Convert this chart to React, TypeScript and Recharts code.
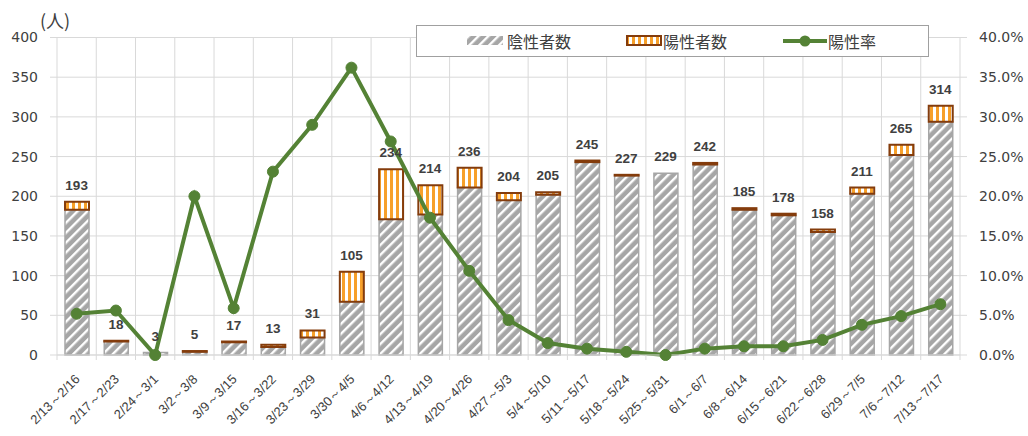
import { Bar, CartesianGrid, ComposedChart, LabelList, Line, XAxis, YAxis } from "recharts";

const weeks = [
  "2/13～2/16", "2/17～2/23", "2/24～3/1", "3/2～3/8", "3/9～3/15", "3/16～3/22",
  "3/23～3/29", "3/30～4/5", "4/6～4/12", "4/13～4/19", "4/20～4/26", "4/27～5/3",
  "5/4～5/10", "5/11～5/17", "5/18～5/24", "5/25～5/31", "6/1～6/7", "6/8～6/14",
  "6/15～6/21", "6/22～6/28", "6/29～7/5", "7/6～7/12", "7/13～7/17",
];
const totals = [193, 18, 3, 5, 17, 13, 31, 105, 234, 214, 236, 204, 205, 245, 227, 229, 242, 185, 178, 158, 211, 265, 314];
const positives = [10, 1, 0, 1, 1, 3, 9, 38, 63, 37, 25, 9, 3, 2, 1, 0, 2, 2, 2, 3, 8, 13, 20];
const rates = [5.2, 5.6, 0, 20.0, 5.9, 23.1, 29.0, 36.2, 26.9, 17.3, 10.6, 4.4, 1.5, 0.8, 0.4, 0, 0.8, 1.1, 1.1, 1.9, 3.8, 4.9, 6.4];
const countTicks = [0, 50, 100, 150, 200, 250, 300, 350, 400];
const rateTicks = [0, 5, 10, 15, 20, 25, 30, 35, 40];

const data = weeks.map((week, i) => ({
  week,
  total: totals[i],
  negative: totals[i] - positives[i],
  positive: positives[i],
  rate: rates[i],
}));

const GRAY = "#a6a6a6";
const ORANGE = "#f7a02a";
const BROWN = "#843c0c";
const GREEN = "#548235";
const GRID = "#d9d9d9";
const TEXT = "#404040";
const NUM_FONT = "'DejaVu Sans', Verdana, sans-serif";
const JP_FONT = "'Noto Sans CJK JP', sans-serif";

function Patterns({ prefix }: { prefix: string }) {
  return (
    <defs>
      <pattern id={`${prefix}-neg`} patternUnits="userSpaceOnUse" width="7" height="7" patternTransform="rotate(45)">
        <rect width="7" height="7" fill={GRAY} />
        <rect width="2.4" height="7" fill="#ffffff" />
      </pattern>
      <pattern id={`${prefix}-pos`} patternUnits="userSpaceOnUse" width="6" height="6">
        <rect width="6" height="6" fill="#ffffff" />
        <rect width="3" height="6" fill={ORANGE} />
      </pattern>
    </defs>
  );
}

function WeekTick(props: any) {
  const { x, y, payload, index } = props;
  const half = payload.offset || 19.6;
  const tx = x + 4;
  const ty = y + 25;
  return (
    <g>
      <line x1={x - half} x2={x - half} y1={y} y2={y + 5} stroke={GRID} />
      {index === weeks.length - 1 && <line x1={x + half} x2={x + half} y1={y} y2={y + 5} stroke={GRID} />}
      <text
        x={tx}
        y={ty}
        transform={`rotate(-45, ${tx}, ${ty})`}
        textAnchor="end"
        fill={TEXT}
        fontSize={13}
        fontFamily="'Liberation Sans', Arial, sans-serif"
      >
        {payload.value}
      </text>
    </g>
  );
}

function Legend() {
  const item = { position: "absolute" as const, top: 5, fontSize: 16, color: TEXT, fontFamily: JP_FONT, lineHeight: "20px" };
  return (
    <div
      style={{
        position: "absolute",
        left: 416,
        top: 25,
        width: 511,
        height: 30,
        border: "1.5px solid #a0a0a0",
        background: "#fff",
      }}
    >
      <svg style={{ position: "absolute", left: 50, top: 10 }} width="36" height="9">
        <Patterns prefix="lg" />
        <rect width="36" height="9" fill="url(#lg-neg)" />
      </svg>
      <div style={{ ...item, left: 90 }}>陰性者数</div>
      <svg style={{ position: "absolute", left: 209, top: 9 }} width="36" height="11">
        <rect x="1" y="1" width="34" height="9" fill="url(#lg-pos)" stroke={BROWN} strokeWidth="2" />
      </svg>
      <div style={{ ...item, left: 246 }}>陽性者数</div>
      <svg style={{ position: "absolute", left: 366, top: 8 }} width="44" height="14">
        <line x1="0" x2="44" y1="7" y2="7" stroke={GREEN} strokeWidth="4" />
        <circle cx="22" cy="7" r="5.5" fill={GREEN} />
      </svg>
      <div style={{ ...item, left: 411 }}>陽性率</div>
    </div>
  );
}

export default function App() {
  return (
    <div style={{ position: "relative", width: 1028, height: 436, background: "#fff" }}>
      <style>{`body{margin:0}`}</style>
      <ComposedChart
        width={1028}
        height={436}
        data={data}
        margin={{ top: 37.5, right: 0, bottom: 0, left: 0 }}
        barSize={24}
      >
        <Patterns prefix="ch" />
        <CartesianGrid
          yAxisId="left"
          stroke={GRID}
          verticalCoordinatesGenerator={({ offset }: any) =>
            Array.from({ length: weeks.length + 1 }, (_, i) => offset.left + (i * offset.width) / weeks.length)
          }
        />
        <XAxis
          dataKey="week"
          interval={0}
          height={81}
          tickSize={0}
          tickMargin={0}
          tickLine={false}
          axisLine={{ stroke: GRID }}
          tick={(p: any) => <WeekTick {...p} />}
        />
        <YAxis
          yAxisId="left"
          orientation="left"
          width={57}
          domain={[0, 400]}
          ticks={countTicks}
          axisLine={false}
          tickLine={{ stroke: GRID }}
          tickSize={7}
          tickMargin={12}
          tick={{ fill: TEXT, fontSize: 14, fontFamily: NUM_FONT }}
        />
        <YAxis
          yAxisId="right"
          orientation="right"
          width={68}
          domain={[0, 40]}
          ticks={rateTicks}
          axisLine={false}
          tickLine={{ stroke: GRID }}
          tickSize={7}
          tickMargin={12}
          tickFormatter={(v: number) => `${v.toFixed(1)}%`}
          tick={{ fill: TEXT, fontSize: 14, fontFamily: NUM_FONT, textAnchor: "start" }}
        />
        <Bar
          yAxisId="left"
          dataKey="negative"
          stackId="a"
          fill="url(#ch-neg)"
          stroke={GRAY}
          strokeWidth={1.5}
          isAnimationActive={false}
        />
        <Bar
          yAxisId="left"
          dataKey="positive"
          stackId="a"
          fill="url(#ch-pos)"
          stroke={BROWN}
          strokeWidth={2}
          isAnimationActive={false}
        />
        <Line
          yAxisId="left"
          dataKey="total"
          stroke="none"
          dot={false}
          activeDot={false}
          legendType="none"
          isAnimationActive={false}
        >
          <LabelList
            dataKey="total"
            position="top"
            offset={12}
            fill={TEXT}
            fontSize={13.5}
            fontWeight="bold"
            fontFamily="'Liberation Sans', Arial, sans-serif"
          />
        </Line>
        <Line
          yAxisId="right"
          dataKey="rate"
          stroke={GREEN}
          strokeWidth={4}
          dot={{ r: 5.5, fill: GREEN, stroke: GREEN, strokeWidth: 1 }}
          isAnimationActive={false}
        />
      </ComposedChart>
      <div
        style={{
          position: "absolute",
          left: 40,
          top: 9,
          fontSize: 18,
          color: TEXT,
          fontFamily: JP_FONT,
          lineHeight: "22px",
        }}
      >
        (人)
      </div>
      <Legend />
    </div>
  );
}
